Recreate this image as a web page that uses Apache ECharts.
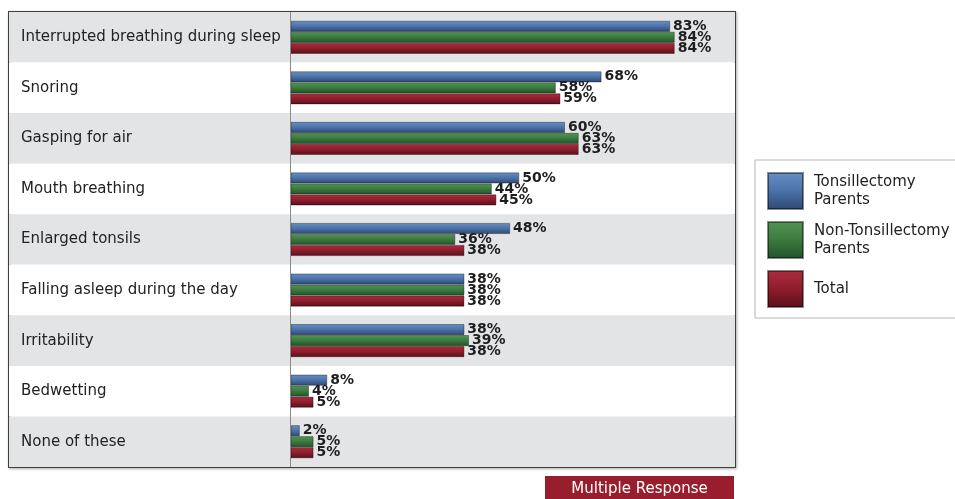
<!DOCTYPE html>
<html>
<head>
<meta charset="utf-8">
<script src="https://cdn.jsdelivr.net/npm/echarts@6/dist/echarts.min.js"></script>
<style>
  html, body { margin: 0; padding: 0; background: #fff; }
  #chart-panel { width: 955px; height: 499px; }
</style>
</head>
<body>
<div id="chart-panel"></div>
<script>
// symptoms, top to bottom
var categories = ['Interrupted breathing during sleep', 'Snoring', 'Gasping for air',
  'Mouth breathing', 'Enlarged tonsils', 'Falling asleep during the day',
  'Irritability', 'Bedwetting', 'None of these'];
var tonsillectomy = [83, 68, 60, 50, 48, 38, 38, 8, 2];
var nonTonsillectomy = [84, 58, 63, 44, 36, 38, 39, 4, 5];
var total = [84, 59, 63, 45, 38, 38, 38, 5, 5];

var seriesNames = ['Tonsillectomy\nParents', 'Non-Tonsillectomy\nParents', 'Total'];

var FONT = 'DejaVu Sans, Verdana, sans-serif';

function grad(c1, c2, c3) {
    return new echarts.graphic.LinearGradient(0, 0, 0, 1, [
        {offset: 0, color: c1}, {offset: 0.45, color: c2}, {offset: 1, color: c3}
    ]);
}
var fills = [
    grad('#6890c4', '#4e75ac', '#2e4873'),
    grad('#539554', '#3d7d40', '#22522b'),
    grad('#ad2c3c', '#921e2e', '#5a0f19')
];

var myChart = echarts.init(document.getElementById('chart-panel'));

function barSeries(i, data) {
    var s = {
        name: seriesNames[i],
        type: 'bar',
        data: data,
        barWidth: 11,
        barGap: '0%',
        itemStyle: {color: fills[i], borderColor: 'rgba(0,0,0,0.45)', borderWidth: 0.8},
        label: {
            show: true,
            position: 'right',
            distance: 3,
            formatter: '{c}%',
            fontFamily: FONT,
            fontSize: 14,
            fontWeight: 'bold',
            color: '#1e1e1e'
        },
        emphasis: {disabled: true}
    };
    if (i === 0) {
        s.markLine = {
            silent: true,
            symbol: 'none',
            label: {show: false},
            lineStyle: {color: '#8a8a8a', width: 1, type: 'solid'},
            data: [{xAxis: 0}]
        };
    }
    return s;
}

var option = {
    animation: false,
    textStyle: {fontFamily: FONT},
    grid: {
        left: 9, right: 220, top: 12, bottom: 32,
        show: true,
        borderColor: '#3f3f3f',
        borderWidth: 2,
        shadowColor: 'rgba(0,0,0,0.25)',
        shadowBlur: 3,
        shadowOffsetX: 1,
        shadowOffsetY: 1,
        backgroundColor: '#fff'
    },
    xAxis: {
        type: 'value',
        min: -61.6,
        max: 97.2,
        show: false,
        splitLine: {show: false}
    },
    yAxis: {
        type: 'category',
        data: categories,
        inverse: true,
        axisLine: {show: false},
        axisTick: {show: false},
        axisLabel: {
            inside: true,
            margin: 12,
            fontSize: 15,
            fontFamily: FONT,
            color: '#222'
        },
        splitArea: {show: true, interval: 0, areaStyle: {color: ['#e3e4e6', '#ffffff']}}
    },
    legend: {
        orient: 'vertical',
        left: 755,
        top: 160,
        icon: 'rect',
        itemWidth: 35,
        itemHeight: 36,
        itemGap: 11,
        padding: [12, 20, 10, 12],
        borderColor: '#b5b5b5',
        borderWidth: 1,
        backgroundColor: '#fff',
        selectedMode: false,
        textStyle: {fontSize: 15, fontFamily: FONT, color: '#222', lineHeight: 18, padding: [0, 0, 0, 6]},
        data: seriesNames
    },
    graphic: [{
        type: 'group',
        left: 545,
        top: 476,
        children: [
            {type: 'rect', shape: {x: 0, y: 0, width: 189, height: 30}, style: {fill: '#981e2d'}},
            {type: 'text', x: 94.5, y: 13, style: {
                text: 'Multiple Response', fill: '#fff', font: '15px DejaVu Sans, Verdana, sans-serif',
                align: 'center', verticalAlign: 'middle'
            }}
        ]
    }],
    series: [
        barSeries(0, tonsillectomy),
        barSeries(1, nonTonsillectomy),
        barSeries(2, total)
    ]
};
myChart.setOption(option);
</script>
</body>
</html>
